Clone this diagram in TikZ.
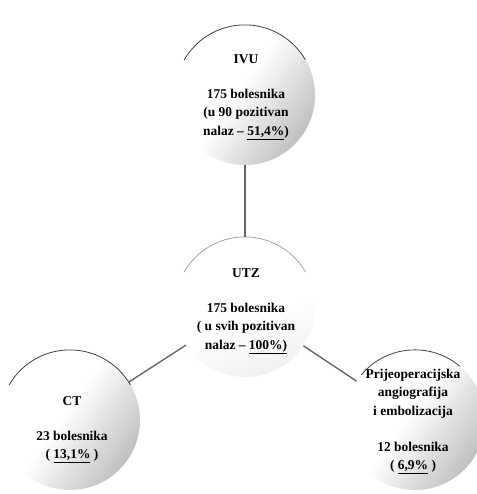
\documentclass[tikz,border=0pt]{standalone}
\usepackage{fontspec}
\setmainfont{Liberation Serif}
\pgfdeclarehorizontalshading{sphere}{100bp}{color(0bp)=(white); color(47bp)=(white); color(72bp)=(black!22); color(100bp)=(black!48)}
\pgfdeclarehorizontalshading{spherelight}{100bp}{color(0bp)=(white); color(55bp)=(white); color(80bp)=(black!7); color(100bp)=(black!14)}
\begin{document}
\begin{tikzpicture}[x=1bp,y=-1bp,
  ball/.style={circle, minimum size=140bp, inner sep=0pt, shading=sphere, shading angle=-35},
  lightball/.style={ball, shading=spherelight, shading angle=-70},
  txt/.style={align=center, inner sep=0pt, font=\fontsize{13.5}{18.5}\selectfont\bfseries},
  toparc/.style={draw=black!75, line width=0.8pt},
  lightarc/.style={draw=black!40, line width=0.7pt},
  link/.style={draw=black!60, line width=1.4pt}]
\useasboundingbox (0,0) rectangle (477,494);
\node[ball] (ivu) at (245,95) {};
\node[lightball] (utz) at (245,307) {};
\node[ball] (ct) at (70,420) {};
\node[ball] (pa) at (415,420) {};
\draw[toparc] (ivu.150) arc[start angle=150, end angle=30, radius=70bp];
\draw[lightarc] (utz.150) arc[start angle=150, end angle=30, radius=70bp];
\draw[toparc] (ct.150) arc[start angle=150, end angle=30, radius=70bp];
\draw[toparc] (pa.140) arc[start angle=140, end angle=50, radius=70bp];
\draw[link] (ivu) -- (utz);
\draw[link] (utz) -- (ct);
\draw[link] (utz) -- (pa);
\node[txt] (ivut) at (246,97) {IVU\\[16.5bp]175 bolesnika\\(u 90 pozitivan\\nalaz -- \underline{51,4\%})};
\node[txt] (utzt) at (246,311.5) {UTZ\\[16.5bp]175 bolesnika\\( u svih pozitivan\\nalaz -- \underline{100\%)}};
\node[txt] (ctt) at (72,429.5) {CT\\[16.5bp]23 bolesnika\\( \underline{13,1\%} )};
\node[txt] (pat) at (413,421.5) {Prijeoperacijska\\angiografija\\i embolizacija\\[17.5bp]12 bolesnika\\( \underline{6,9\%} )};
\end{tikzpicture}
\end{document}
